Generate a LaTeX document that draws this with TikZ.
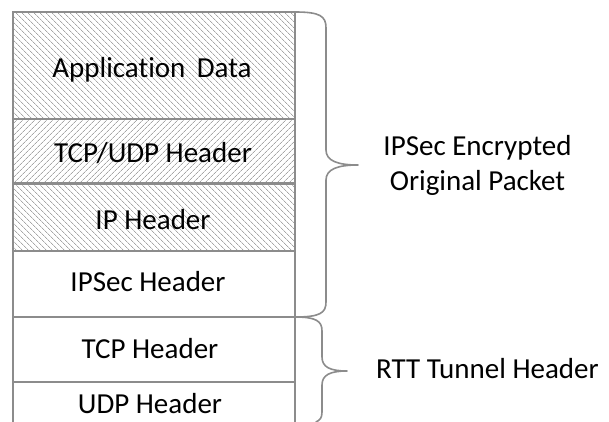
\documentclass[tikz,border=0pt]{standalone}
\usepackage{fontspec}
\setmainfont{Carlito}[Ligatures=NoCommon]
\usetikzlibrary{patterns.meta}
\definecolor{edge}{HTML}{8C8C8C}
\definecolor{hatch}{HTML}{A6A6A6}
\begin{document}
\begin{tikzpicture}[x=1pt,y=-1pt,
  cell/.style={draw=edge,line width=1.6pt,minimum width=282pt,inner sep=0pt,outer sep=0pt},
  hatchback/.style={pattern={Lines[angle=-45,distance=4pt,line width=0.7pt]},pattern color=hatch},
  hatchfwd/.style={pattern={Lines[angle=45,distance=4pt,line width=0.7pt]},pattern color=hatch},
  lbl/.style={font=\fontsize{29}{35}\selectfont,inner sep=0pt,anchor=base},
  brace/.style={draw=edge,line width=1.6pt,line cap=round,line join=round}]
\clip (0,0) rectangle (609,421);
\fill[white] (0,0) rectangle (609,421);
% cells
\node[cell,hatchback,minimum height=107pt] (app) at (154,65.5) {};
\node[cell,hatchfwd,minimum height=64pt] (tu) at (154,151) {};
\node[cell,hatchback,minimum height=67pt] (ip) at (154,217.5) {};
\node[cell,minimum height=66pt] (ipsec) at (154,284) {};
\node[cell,minimum height=65pt] (tcp) at (154,349.5) {};
\node[cell,minimum height=60pt] (udp) at (154,412) {};
% texts
\node[lbl] (tapp) at (152,77) {Application\ \,Data};
\node[lbl] (ttu) at (153,162) {TCP/UDP Header};
\node[lbl] (tip) at (153,229) {IP Header};
\node[lbl] (tipsec) at (148,291) {IPSec Header};
\node[lbl] (ttcp) at (150,358) {TCP Header};
\node[lbl] (tudp) at (150,413) {UDP Header};
% braces
\draw[brace] (app.north east) .. controls (320,12) and (326,16) .. (326,28)
  -- (326,150) .. controls (326,161) and (338,165) .. (358,165)
  coordinate (tip1)
  .. controls (338,165) and (326,169) .. (326,180)
  -- (326,302) .. controls (326,313) and (320,317) .. (ipsec.south east);
\draw[brace] (ipsec.south east) .. controls (316,317) and (322,321) .. (322,331)
  -- (322,357) .. controls (322,367) and (330,371) .. (347,371)
  coordinate (tip2)
  .. controls (330,371) and (322,375) .. (322,385)
  -- (322,412) .. controls (322,418) and (320,420) .. (316,422);
% right labels
\node[lbl] (enc1) at (477.5,155) {IPSec Encrypted};
\node[lbl] (enc2) at (477.5,190) {Original Packet};
\node[lbl] (rtt) at (487.5,378) {RTT Tunnel Header};
\end{tikzpicture}
\end{document}
